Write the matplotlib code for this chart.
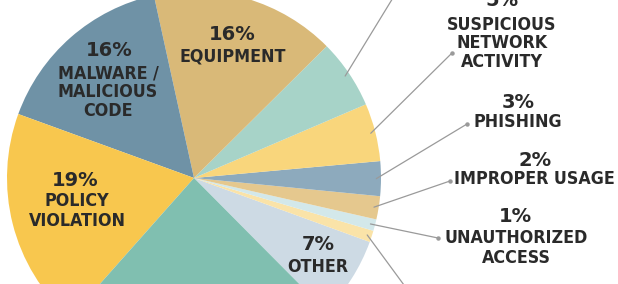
import numpy as np
import matplotlib
matplotlib.use("Agg")
import matplotlib.pyplot as plt

# ---- data (counter-clockwise order, starting at the teal/"other" boundary) ----
categories = ["OTHER", "UNKNOWN_A", "UNAUTHORIZED\nACCESS", "IMPROPER USAGE", "PHISHING",
              "SUSPICIOUS\nNETWORK\nACTIVITY", "UNKNOWN_B", "EQUIPMENT",
              "MALWARE /\nMALICIOUS\nCODE", "POLICY\nVIOLATION", "UNKNOWN_C"]
values = [7, 1, 1, 2, 3, 5, 6, 16, 16, 19, 24]
colors = ["#CDDAE4", "#FAE3A8", "#D3E8EA", "#E5C88E", "#8DAABD", "#F9D67C",
          "#A7D3C8", "#D9B978", "#6F92A6", "#F8C74E", "#80BFB0"]
pct_labels = ["7%", "", "1%", "2%", "3%", "5%", "", "16%", "16%", "19%", ""]

W, H = 618, 284
fig = plt.figure(figsize=(W / 100, H / 100), dpi=100)
ax = fig.add_axes([0, 0, 1, 1])

cx, cy, R = 194, H - 178, 187
start = -45.2
wedges, _ = ax.pie(values, colors=colors, startangle=start, counterclock=True,
                   center=(cx, cy), radius=R, wedgeprops=dict(linewidth=0),
                   frame=True)
ax.set_xlim(0, W)
ax.set_ylim(0, H)
ax.set_aspect("equal")
ax.axis("off")

txt_col = "#2a2a2a"


def pct(x, y_img, text):
    ax.text(x, H - y_img, text, ha="center", va="center", fontsize=14,
            fontweight="bold", family="DejaVu Sans", color=txt_col)


def name(x, y_img_first, text, spacing=19):
    for i, line in enumerate(text.split("\n")):
        ax.text(x, H - (y_img_first + i * spacing), line, ha="center",
                va="center", fontsize=12.8, fontweight="bold",
                fontstretch="condensed", family="DejaVu Sans", color=txt_col)


# inside labels
pct(109, 50, pct_labels[8]); name(108, 73, categories[8])
pct(232, 35, pct_labels[7]); name(233, 57, categories[7])
pct(75, 180, pct_labels[9]); name(77, 201, categories[9], spacing=20)
pct(318, 245, pct_labels[0]); name(318, 267, categories[0])

# outside labels
pct(502, 0, pct_labels[5]); name(502, 25, categories[5], spacing=18.5)
pct(518, 103, pct_labels[4]); name(518, 122, categories[4])
pct(535, 160, pct_labels[3]); name(534, 179, categories[3])
pct(515, 216, pct_labels[2]); name(516, 238, categories[2], spacing=20)

# leader lines: start at wedge mid-angle, end at label dot (image coords)
cum = np.cumsum([0] + values[:-1])
mids = start + (cum + np.array(values) / 2) / sum(values) * 360
ends = {6: (410, -30), 5: (452, 53), 4: (467, 124), 3: (450, 181),
        2: (438, 238), 1: (415, 300)}
for idx, (ex, ey) in ends.items():
    a = np.deg2rad(mids[idx])
    r = 0.975 * R
    sx, sy = cx + r * np.cos(a), cy + r * np.sin(a)
    ax.plot([sx, ex], [sy, H - ey], color="#9a9a9a", lw=0.9, solid_capstyle="round")
    ax.plot([ex], [H - ey], "o", ms=2.2, color="#9a9a9a")

fig.savefig("out.png", dpi=100)
